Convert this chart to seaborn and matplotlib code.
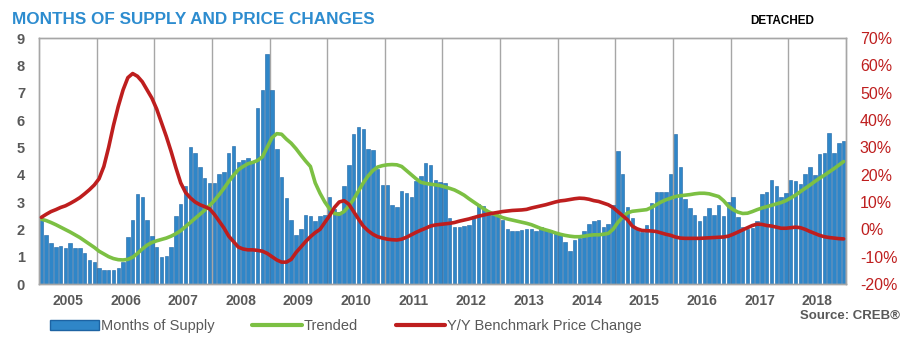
import numpy as np
import pandas as pd
import matplotlib
matplotlib.use("Agg")
import matplotlib.pyplot as plt
import seaborn as sns
from matplotlib.patches import Patch
from matplotlib.lines import Line2D

# Year labels on the x axis (one block of 12 monthly bars per year)
years = list(range(2005, 2019))

# Months of supply, monthly Jan 2005 - Dec 2018 (left axis)
supply = [
    2.35, 1.8, 1.5, 1.35, 1.4, 1.33, 1.5, 1.3, 1.3, 1.12, 0.86, 0.79,      # 2005
    0.57, 0.5, 0.5, 0.5, 0.6, 0.82, 1.72, 2.34, 3.3, 3.2, 2.35, 1.74,      # 2006
    1.37, 0.98, 1.03, 1.37, 2.5, 2.92, 3.6, 5.03, 4.8, 4.27, 3.86, 3.71,   # 2007
    3.7, 4.02, 4.08, 4.78, 5.06, 4.47, 4.55, 4.6, 4.49, 6.44, 7.1, 8.41,   # 2008
    7.1, 4.95, 3.93, 3.13, 2.33, 1.79, 2.03, 2.54, 2.47, 2.3, 2.49, 2.52,  # 2009
    3.2, 2.75, 2.65, 3.58, 4.35, 5.5, 5.75, 5.67, 4.93, 4.89, 4.2, 3.61,   # 2010
    3.62, 2.89, 2.83, 3.41, 3.32, 3.19, 3.76, 3.95, 4.44, 4.37, 3.8, 3.74, # 2011
    3.7, 2.4, 2.1, 2.08, 2.12, 2.16, 2.5, 2.92, 2.84, 2.62, 2.52, 2.5,     # 2012
    2.35, 2.0, 1.95, 1.95, 1.98, 2.03, 2.0, 1.93, 2.1, 2.03, 1.98, 1.9,    # 2013
    1.8, 1.54, 1.2, 1.62, 1.7, 1.95, 2.2, 2.3, 2.33, 2.1, 2.2, 2.9,        # 2014
    4.86, 4.04, 2.83, 2.4, 2.0, 1.9, 2.15, 2.95, 3.37, 3.37, 3.37, 4.02,   # 2015
    5.47, 4.27, 3.1, 2.77, 2.52, 2.3, 2.49, 2.78, 2.52, 2.9, 2.5, 3.0,     # 2016
    3.2, 2.45, 2.1, 2.0, 2.05, 2.3, 3.3, 3.35, 3.8, 3.6, 3.17, 3.32,       # 2017
    3.79, 3.76, 3.66, 4.04, 4.27, 3.99, 4.75, 4.8, 5.54, 4.81, 5.16, 5.24, # 2018
]

# Trended months of supply (left axis)
trended = [
    2.37, 2.32, 2.25, 2.17, 2.08, 1.99, 1.9, 1.8, 1.7, 1.58, 1.46, 1.34,
    1.2, 1.1, 1.0, 0.93, 0.89, 0.88, 0.9, 0.98, 1.12, 1.28, 1.42, 1.52,
    1.58, 1.63, 1.68, 1.75, 1.84, 1.95, 2.1, 2.25, 2.4, 2.55, 2.7, 2.87,
    3.05, 3.27, 3.5, 3.75, 3.98, 4.18, 4.3, 4.4, 4.45, 4.52, 4.65, 5.0,
    5.35, 5.5, 5.48, 5.3, 5.15, 4.95, 4.72, 4.5, 4.3, 3.7, 3.32, 3.0,
    2.75, 2.58, 2.55, 2.65, 2.85, 3.1, 3.4, 3.7, 3.95, 4.15, 4.28, 4.33,
    4.36, 4.37, 4.36, 4.3, 4.15, 4.0, 3.85, 3.72, 3.68, 3.65, 3.63, 3.6,
    3.55, 3.5, 3.44, 3.35, 3.25, 3.12, 3.0, 2.88, 2.76, 2.65, 2.57, 2.5,
    2.43, 2.38, 2.34, 2.3, 2.26, 2.22, 2.17, 2.1, 2.03, 1.98, 1.93, 1.87,
    1.82, 1.78, 1.75, 1.73, 1.73, 1.75, 1.78, 1.8, 1.8, 1.82, 1.85, 2.0,
    2.25, 2.45, 2.6, 2.66, 2.68, 2.7, 2.72, 2.8, 2.9, 3.0, 3.08, 3.14,
    3.2, 3.23, 3.25, 3.27, 3.3, 3.32, 3.32, 3.3, 3.25, 3.2, 3.05, 2.85,
    2.72, 2.63, 2.58, 2.59, 2.65, 2.72, 2.78, 2.83, 2.88, 2.93, 2.98, 3.05,
    3.15, 3.25, 3.38, 3.5, 3.62, 3.75, 3.87, 3.98, 4.1, 4.22, 4.35, 4.48,
]

# Y/Y benchmark price change in % (right axis)
price_change = [
    4.4, 5.5, 6.5, 7.2, 8.0, 8.6, 9.5, 10.5, 11.6, 13.0, 14.5, 16.2,
    18.5, 23, 30, 38, 45, 51, 55.5, 57, 56, 54, 51, 48,
    44, 39, 34, 28.5, 22.5, 17, 13.5, 11.5, 10, 9, 8.3, 7.5,
    5.5, 3, 0.5, -2.5, -4.5, -6.5, -7.2, -7.5, -7.5, -7.7, -8, -8.8,
    -10, -11.2, -12, -12, -11, -8.5, -6.5, -4.5, -2.7, -1.2, 0, 2.5,
    5, 8, 10, 10.5, 9.2, 6.5, 3.8, 1.2, -0.5, -1.8, -2.7, -3.2,
    -3.6, -3.8, -3.9, -3.6, -2.9, -2, -1.1, -0.3, 0.4, 1.2, 1.6, 1.8,
    2.0, 2.2, 2.5, 3.0, 3.4, 3.8, 4.3, 4.8, 5.2, 5.6, 5.9, 6.2,
    6.5, 6.7, 6.9, 7.0, 7.1, 7.3, 7.8, 8.2, 8.6, 9.0, 9.5, 10.0,
    10.4, 10.6, 10.9, 11.2, 11.4, 11.3, 11.0, 10.5, 10.2, 9.6, 9.0, 8.0,
    6.5, 5.0, 3.5, 1.2, 0.2, -0.4, -0.5, -0.6, -0.8, -1.3, -1.8, -2.2,
    -2.8, -3.2, -3.3, -3.3, -3.3, -3.3, -3.2, -3.1, -3.0, -2.9, -2.8, -2.5,
    -1.8, -1.0, -0.2, 0.6, 1.4, 1.9, 1.8, 1.4, 1.2, 0.8, 0.4, 0.4,
    0.6, 0.8, 0.6, 0.0, -0.8, -1.5, -2.2, -2.7, -3.0, -3.2, -3.4, -3.5,
]

df = pd.DataFrame({
    "pos": np.arange(len(supply)),
    "supply": supply,
    "trended": trended,
    "price": price_change,
})

BLUE = "#2f86c8"
BLUE_EDGE = "#1d63a3"
GREEN = "#7cc043"
RED = "#be1e1e"
GRAY = "#595959"
GRID = "#a6a6a6"

sns.set_style("white")
plt.rcParams['font.family'] = ['Liberation Sans', 'DejaVu Sans']

fig = plt.figure(figsize=(9.15, 3.53), dpi=100)
ax = fig.add_axes([39 / 915, 1 - 284 / 353, (846 - 39) / 915, (284 - 38) / 353])

# monthly bars
sns.barplot(data=df, x="pos", y="supply", ax=ax, color=BLUE, saturation=1,
            width=0.72, edgecolor=BLUE_EDGE, linewidth=0.4, zorder=2)
# trended line
sns.lineplot(data=df, x="pos", y="trended", ax=ax, color=GREEN, lw=2.6, zorder=3)

ax.set_xlim(-0.5, len(supply) - 0.5)
ax.set_ylim(0, 9)
ax.set_yticks(range(10))
ax.set_xticks([5.5 + 12 * i for i in range(len(years))])
ax.set_xticklabels(years)
ax.set_xlabel("")
ax.set_ylabel("")
ax.tick_params(axis="both", length=0)
ax.tick_params(axis="y", pad=10)
ax.tick_params(axis="x", pad=7)
for lab in ax.get_yticklabels():
    lab.set_fontweight("bold")
    lab.set_fontsize(10.5)
    lab.set_color(GRAY)
for lab in ax.get_xticklabels():
    lab.set_fontweight("bold")
    lab.set_fontsize(10)
    lab.set_color(GRAY)

# year separators
for i in range(1, len(years)):
    ax.axvline(-0.5 + 12 * i, color=GRID, lw=1, zorder=0)
for sp in ax.spines.values():
    sp.set_color(GRID)
    sp.set_linewidth(1)

# price change on right axis
ax2 = ax.twinx()
sns.lineplot(data=df, x="pos", y="price", ax=ax2, color=RED, lw=2.6, zorder=4)
ax2.set_ylim(-20, 70)
ax2.set_yticks(range(-20, 71, 10))
ax2.set_yticklabels([f"{v}%" for v in range(-20, 71, 10)])
ax2.set_ylabel("")
ax2.tick_params(axis="y", length=0, pad=10, labelcolor=RED, labelsize=11.5)
for sp in ax2.spines.values():
    sp.set_color(GRID)
    sp.set_linewidth(1)

fig.text(12 / 915, 1 - 19 / 353, "MONTHS OF SUPPLY AND PRICE CHANGES",
         fontsize=12.3, fontweight="bold", color="#2d8ccf", va="center")
fig.text(750 / 915, 1 - 21 / 353, "DETACHED", fontsize=8.5,
         fontweight="bold", color="black", va="center")
fig.text(900 / 915, 1 - 316 / 353, "Source: CREB®", fontsize=9.5,
         fontweight="bold", color=GRAY, ha="right", va="center")

handles = [Patch(facecolor=BLUE, edgecolor=BLUE_EDGE),
           Line2D([], [], color=GREEN, lw=3),
           Line2D([], [], color=RED, lw=3)]
labels = ["Months of Supply", "Trended", "Y/Y Benchmark Price Change"]
fig.legend(handles, labels, loc="center left", bbox_to_anchor=(44 / 915, 1 - 326 / 353),
           ncol=3, frameon=False, fontsize=10.5, handlelength=3.4, handletextpad=0.1,
           columnspacing=2.6, labelcolor=GRAY, borderaxespad=0)

fig.savefig("out.png", dpi=100)
